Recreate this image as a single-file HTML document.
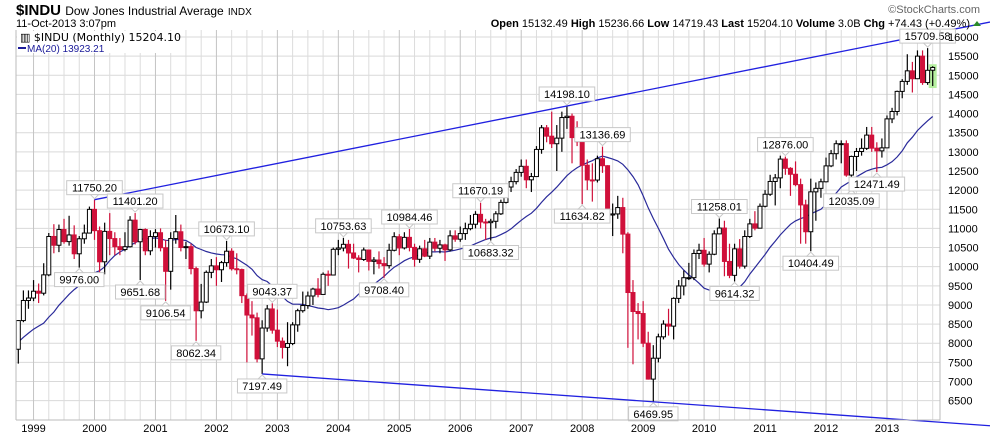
<!DOCTYPE html>
<html><head><meta charset="utf-8">
<style>
html,body{margin:0;padding:0;background:#fff;}
body{width:990px;height:438px;overflow:hidden;position:relative;font-family:"Liberation Sans",sans-serif;}
svg{position:absolute;left:0;top:0;}
</style></head>
<body>
<svg id="chart" width="990" height="438" viewBox="0 0 990 438" xmlns="http://www.w3.org/2000/svg" font-family="Liberation Sans, sans-serif">
  <g id="grid"></g>
  <g id="ma"></g>
  <g id="candles"></g>
  <g id="trend"></g>
  <g id="notes"></g>
  <g id="axes"></g>
  <g>
    <text x="16" y="15" font-size="15" font-weight="bold">$INDU <tspan font-size="12" font-weight="normal">Dow Jones Industrial Average</tspan> <tspan font-size="10" font-weight="normal">INDX</tspan></text>
    <text x="16" y="27" font-size="11">11-Oct-2013 3:07pm</text>
    <text x="970" y="27" font-size="11" text-anchor="end"><tspan font-weight="bold">Open</tspan> 15132.49 <tspan font-weight="bold">High</tspan> 15236.66 <tspan font-weight="bold">Low</tspan> 14719.43 <tspan font-weight="bold">Last</tspan> 15204.10 <tspan font-weight="bold">Volume</tspan> 3.0B <tspan font-weight="bold">Chg</tspan> +74.43 (+0.49%)</text>
    <polygon points="973,26 981,26 977,21" fill="#2a8a2a"/>
    <text x="980" y="13" font-size="11" fill="#666" text-anchor="end">©StockCharts.com</text>
  </g>
  <g>
    <rect x="17" y="31" width="160" height="22" fill="#fff"/>
    <text x="20" y="41" font-size="11" font-family="DejaVu Sans, sans-serif">▥ $INDU (Monthly) 15204.10</text>
    <line x1="18" y1="48" x2="26" y2="48" stroke="#1a1a99" stroke-width="2"/>
    <text x="27" y="52" font-size="10" fill="#1a1a99">MA(20) 13923.21</text>
  </g>
</svg>
<script>
// ---- data (monthly, Oct 1998 .. Oct 2013) ----
const startYear = 1998, startMonth = 9; // Oct 1998 (0-based month)
const firstOpen = 7843;
const closes = [8592,9117,9181,
9359,9307,9786,10789,10560,10971,10655,10829,10337,10729,10878,11497,
10941,10128,10922,10734,10522,10448,10522,11215,10651,10971,10415,10787,
10887,10495,9879,10735,10912,10502,10523,9950,8848,9075,9852,10021,
9920,10106,10404,9946,9925,9243,8737,8664,7592,8397,8896,8342,
8054,7891,7992,8480,8850,8985,9234,9416,9275,9801,9782,10454,
10488,10584,10358,10226,10188,10435,10140,10174,10080,10027,10428,10783,
10490,10766,10504,10193,10467,10275,10641,10482,10569,10440,10806,10718,
10865,10993,11109,11367,11168,11150,11186,11381,11679,12081,12222,12463,
12622,12269,12354,13063,13628,13409,13212,13358,13896,13930,13372,13265,
12650,12266,12263,12820,12638,11350,11378,11544,10851,9325,8829,8776,
8001,7063,7609,8168,8500,8447,9172,9496,9712,9713,10345,10428,
10067,10325,10857,11009,10137,9774,10466,10015,10788,11118,11006,11578,
11892,12226,12320,12811,12570,12414,12143,11614,10913,11955,12046,12218,
12633,12952,13212,13214,12393,12880,13009,13091,13437,13096,13026,13104,
13861,14054,14579,14840,15116,14910,15500,14810,15130,15204];
const highs = [8600,9380,9380,
9650,9560,10090,10880,11110,11100,11250,11330,11080,10800,11100,11570,
11750.2,11050,11150,11400,10900,10750,10900,11320,11401.2,10990,11000,10950,
10980,11000,10700,10900,11350,11100,10650,10600,10000,9550,9900,10200,
10250,10150,10673.1,10480,10350,9950,9300,9100,8800,8600,9000,9043.37,
8880,8150,8550,8550,8900,9350,9350,9450,9700,9850,9900,10500,
10700,10753.63,10700,10600,10300,10500,10400,10250,10400,10250,10600,10900,
10850,10900,10984.46,10600,10550,10700,10750,10750,10700,10600,10950,10950,
11050,11150,11350,11450,11670.19,11250,11250,11450,11750,12150,12350,12550,
12800,12800,12450,13150,13700,13700,14050,13700,14050,14198.1,14000,13800,
13300,12800,12700,12900,13136.69,12650,11650,11850,11800,10900,9650,9050,
9100,8300,7950,8250,8600,8900,9200,9650,9900,10100,10450,10600,
10750,10400,10950,11258.01,11200,10600,10600,10720,10950,11250,11450,11650,
12000,12400,12420,12900,12876,12600,12750,12300,11750,12300,12200,12300,
12850,13050,13300,13300,13300,12900,13100,13350,13650,13650,13250,13350,
13950,14150,14600,14900,15550,15350,15650,15650,15709.58,15237];
const lows = [7467,8550,8900,
9100,9050,9250,9750,10350,10380,10600,10550,10200,9976,10600,10900,
10700,9731,9800,10300,10300,10300,10400,10500,10580,9651.68,10300,10300,
10500,10400,9106.54,9400,10600,10400,10200,9800,8062.34,8650,9050,9700,
9500,9600,10000,9900,9800,9050,7500,8200,7500,7197.49,8300,8250,
7900,7600,7400,7950,8300,8800,8900,9000,9200,9300,9500,9800,
10300,10400,9950,10200,9850,10150,9900,9800,9950,9708.4,9950,10400,
10300,10450,10400,10000,10100,10250,10200,10400,10350,10150,10400,10650,
10650,10700,10950,11000,11000,10700,10683.32,11000,11350,11650,11950,12150,
12350,12050,11950,12350,12950,13250,13100,12500,13000,13600,12700,13150,
11634.82,12000,11700,12200,12450,11300,10800,11250,10350,7880,7450,8100,
7900,7050,6469.95,7500,8100,8200,8100,9050,9250,9650,9650,10200,
10000,9850,10300,10850,9750,9700,9614.32,9950,9950,10750,10950,11000,
11550,11850,11600,12050,12400,11850,12100,10600,10600,10404.49,11200,11800,
12200,12600,12800,12700,12350,12035.09,12500,12900,13050,13000,12471.49,12850,
13100,13750,13950,14400,14750,14550,14900,14750,14750,14719];
// 19 monthly closes before Oct 1998 (Mar 1997 .. Sep 1998) for MA(20)
const priorCloses = [6584,7009,7331,7673,8223,7622,7945,7442,7823,7908,7907,8546,8800,9063,8900,8952,8883,7539,7843];
const yTicks = [16000,15500,15000,14500,14000,13500,13000,12500,12000,11500,11000,10500,10000,9500,9000,8500,8000,7500,7000,6500];
const yearLabels = ["1999","2000","2001","2002","2003","2004","2005","2006","2007","2008","2009","2010","2011","2012","2013"];
// annotations: [month index, value, position]
const noteIdx = [15,12,23,24,29,35,41,48,50,64,72,77,91,93,108,111,115,125,138,141,151,156,164,169,179];
const noteVal = [11750.20,9976.00,11401.20,9651.68,9106.54,8062.34,10673.10,7197.49,9043.37,10753.63,9708.40,10984.46,11670.19,10683.32,14198.10,11634.82,13136.69,6469.95,11258.01,9614.32,12876.00,10404.49,12035.09,12471.49,15709.58];
const notePos = ["up","down","up","down","down","down","up","down","up","up","down","up","up","down","up","down","up","down","up","down","up","down","down","down","up"];
// trend line anchor points: [month index, value]
const upperTrend = [[15,11750.20],[108,14198.10]];
const lowerTrend = [[48,7197.49],[125,6469.95]];

// ---- scales ----
const PL=16, PR=940, PT=30, PB=420;
const xJan2000 = 94.5, pxPerMonth = 5.08;
function x(i){ return xJan2000 + (i - 15) * pxPerMonth; }
function xMonth(year, m){ return x((year - startYear) * 12 + m - startMonth); }
function y(v){ return 37 + (16000 - v) / 500 * 19.14; }

const NS="http://www.w3.org/2000/svg";
function mk(tag, attrs, parent){ const e=document.createElementNS(NS,tag); for(const k in attrs) e.setAttribute(k, attrs[k]); parent.appendChild(e); return e; }

// grid
const grid=document.getElementById('grid');
for(const t of yTicks){
  const l=mk('line',{x1:PL,x2:PR,y1:y(t),y2:y(t),stroke:'#d9d9d9','stroke-width':1},grid);
  
  
}
for(let yr=1999; yr<=2013; yr++){
  for(let q=0;q<4;q++){
    const xx=xMonth(yr,q*3);
    if(xx<PL||xx>PR) continue;
    const l=mk('line',{x1:xx,x2:xx,y1:PT,y2:PB,stroke:q===0?'#c4c4c4':'#dcdcdc','stroke-width':1},grid);
    
    
  }
}
// highlight last candle
const last=closes.length-1;
const hl=mk('rect',{x:x(last)-4,y:y(highs[last])-2,width:8,height:y(lows[last])-y(highs[last])+4,fill:'#b6f0a0'},grid);



// MA(20)
const all=priorCloses.concat(closes);
let pts=[];
for(let i=0;i<closes.length;i++){
  let s=0; for(let k=i;k<i+20;k++) s+=all[k];
  pts.push(x(i).toFixed(1)+','+y(s/20).toFixed(1));
}
const maLine=mk('polyline',{points:pts.join(' '),fill:'none',stroke:'#2a2a9a','stroke-width':1.2},document.getElementById('ma'));



// candles
const cg=document.getElementById('candles');
for(let i=0;i<closes.length;i++){
  const o = i===0 ? firstOpen : closes[i-1] + (i===last ? 2 : 0);
  const c=closes[i];
  const up=c>=o;
  const col=up?'#000':'#d0103a';
  const g=mk('g',{},cg);
  
  
  mk('line',{x1:x(i),x2:x(i),y1:y(highs[i]),y2:y(lows[i]),stroke:col,'stroke-width':1.2},g);
  const top=y(Math.max(o,c)), bot=y(Math.min(o,c));
  mk('rect',{x:x(i)-2,y:top,width:4,height:Math.max(1,bot-top),fill:up?'#fff':'#d0103a',stroke:col,'stroke-width':1},g);
}

// trend lines
const tg=document.getElementById('trend');
function trend(p, name){
  const x1=x(p[0][0]), y1=y(p[0][1]), x2=x(p[1][0]), y2=y(p[1][1]);
  const sl=(y2-y1)/(x2-x1);
  const l=mk('line',{x1:x1,y1:y1,x2:990,y2:y1+sl*(990-x1),stroke:'#2020e0','stroke-width':1.3},tg);
  
  
}
trend(upperTrend,'upper-trend-line');
trend(lowerTrend,'lower-trend-line');

// annotations
const ng=document.getElementById('notes');
for(let k=0;k<noteIdx.length;k++){
  const cx=x(noteIdx[k]), vy=y(noteVal[k]);
  const txt=noteVal[k].toFixed(2);
  const w=txt.length*6.2+6, h=14;
  const g=mk('g',{},ng);
  
  
  let by = notePos[k]==='up' ? vy-5-h : vy+5;
  mk('rect',{x:cx-w/2,y:by,width:w,height:h,fill:'#fff',stroke:'#c8c8c8','stroke-width':1},g);
  if(notePos[k]==='up') mk('polygon',{points:`${cx-4},${by+h} ${cx+4},${by+h} ${cx},${by+h+4}`,fill:'#fff',stroke:'#c8c8c8'},g);
  else mk('polygon',{points:`${cx-4},${by} ${cx+4},${by} ${cx},${by-4}`,fill:'#fff',stroke:'#c8c8c8'},g);
  const t=mk('text',{x:cx,y:by+11,'font-size':11,'text-anchor':'middle',fill:'#000'},g);
  t.textContent=txt;
}

// axes
const ag=document.getElementById('axes');
mk('line',{x1:PR,x2:PR,y1:PT,y2:PB,stroke:'#bbb'},ag);
mk('line',{x1:PL,x2:PR,y1:PB,y2:PB,stroke:'#bbb'},ag);
mk('line',{x1:PL,x2:PL,y1:PT,y2:PB,stroke:'#bbb'},ag);
for(const t of yTicks){
  const lb=mk('text',{x:948,y:y(t)+4,'font-size':11,fill:'#000'},ag);
  
  
  lb.textContent=t;
}
yearLabels.forEach((s,j)=>{
  const yr=1999+j;
  let xx=xMonth(yr,0);
  if(xx<30) xx=30;
  const lb=mk('text',{x:xx,y:432,'font-size':11,'text-anchor':'middle',fill:'#000'},ag);
  
  
  lb.textContent=s;
});
</script>
</body></html>
